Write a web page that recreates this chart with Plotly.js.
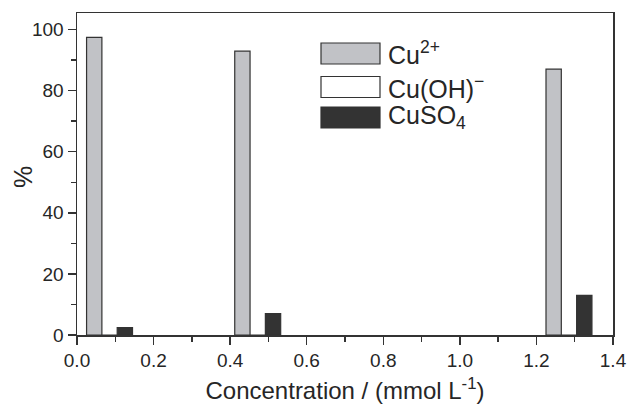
<!DOCTYPE html>
<html>
<head>
<meta charset="utf-8">
<script src="https://cdn.plot.ly/plotly-3.0.1.min.js"></script>
<style>html,body{margin:0;padding:0;background:#fff;}#chart{width:627px;height:407px;}</style>
</head>
<body>
<div id="chart"></div>
<script>
// Data
const concentration = [0.085, 0.472, 1.285];      // mmol L^-1 (group centres)
const cu2 = [97.4, 92.9, 87.0];                    // % Cu2+
const cuOH = [0, 0, 0];                            // % Cu(OH)-
const cuSO4 = [2.4, 7.0, 13.0];                    // % CuSO4
const seriesNames = ['Cu<sup>2+</sup>', 'Cu(OH)<sup>\u2212</sup>', 'CuSO<sub>4</sub>'];
const xTickVals = [0, 0.2, 0.4, 0.6, 0.8, 1.0, 1.2, 1.4];
const yTickVals = [0, 20, 40, 60, 80, 100];
const xTitle = 'Concentration / (mmol L<sup>-1</sup>)';
const yTitle = '%';

const fills = ['#c1c2c6', '#ffffff', '#333333'];
const lineCol = '#333333';
const font = 'Arial, "Liberation Sans", sans-serif';
const txt = '#262626';
const barW = 0.04;
const offsets = [-0.06, -0.02, 0.02];
const values = [cu2, cuOH, cuSO4];

const traces = values.map((v, i) => ({
  type: 'bar',
  x: concentration,
  y: v,
  name: seriesNames[i],
  width: barW,
  offset: offsets[i],
  marker: {color: fills[i], line: {color: lineCol, width: 1.2}},
  showlegend: false,
  hoverinfo: 'skip'
}));

// Custom legend (large swatches like the original)
const shapes = [];
const annotations = [];
const legRows = [53.5, 87, 117.5]; // pixel centres
const plotTop = 13, plotH = 322, plotL = 77, plotW = 536;
legRows.forEach((py, i) => {
  const x0 = (321 - plotL) / plotW, x1 = (380 - plotL) / plotW;
  const y0 = 1 - (py - 10.5 - plotTop) / plotH, y1 = 1 - (py + 10.5 - plotTop) / plotH;
  shapes.push({type: 'rect', xref: 'paper', yref: 'paper', x0: x0, x1: x1, y0: y0, y1: y1,
    fillcolor: fills[i], line: {color: lineCol, width: 1.2}});
  annotations.push({xref: 'paper', yref: 'paper', x: (386 - plotL) / plotW, y: 1 - (py - plotTop) / plotH,
    xanchor: 'left', yanchor: 'middle', showarrow: false, text: seriesNames[i],
    font: {family: font, size: 25, color: txt}});
});
// y-axis title placed like the original
annotations.push({xref: 'paper', yref: 'paper', x: (23 - plotL) / plotW, y: 1 - (177 - plotTop) / plotH,
  xanchor: 'center', yanchor: 'middle', showarrow: false, textangle: -90, text: yTitle,
  font: {family: font, size: 25, color: txt}});

const layout = {
  width: 627, height: 407,
  margin: {l: 77, r: 14, t: 13, b: 72, pad: 0},
  paper_bgcolor: '#ffffff', plot_bgcolor: '#ffffff',
  barmode: 'overlay',
  font: {family: font, color: txt, size: 19},
  xaxis: {
    range: [0, 1.4], tickvals: xTickVals, ticktext: xTickVals.map(v => v.toFixed(1)),
    ticks: 'outside', ticklen: 8, tickwidth: 1.5, tickcolor: lineCol,
    showline: true, linecolor: lineCol, linewidth: 1.5, mirror: true,
    showgrid: false, zeroline: false,
    minor: {dtick: 0.1, tick0: 0, ticks: 'outside', ticklen: 5, tickwidth: 1.5, tickcolor: lineCol, showgrid: false},
    tickfont: {size: 19, color: txt, family: font},
    title: {text: xTitle, font: {size: 24, color: txt, family: font}, standoff: 12}
  },
  yaxis: {
    range: [0, 105.4], tickvals: yTickVals,
    ticks: 'outside', ticklen: 8, tickwidth: 1.5, tickcolor: lineCol,
    showline: true, linecolor: lineCol, linewidth: 1.5, mirror: true,
    showgrid: false, zeroline: false,
    minor: {dtick: 10, tick0: 0, ticks: 'outside', ticklen: 5, tickwidth: 1.5, tickcolor: lineCol, showgrid: false},
    tickfont: {size: 19, color: txt, family: font}
  },
  shapes: shapes,
  annotations: annotations
};

Plotly.newPlot('chart', traces, layout, {displayModeBar: false, staticPlot: true});
</script>
</body>
</html>
